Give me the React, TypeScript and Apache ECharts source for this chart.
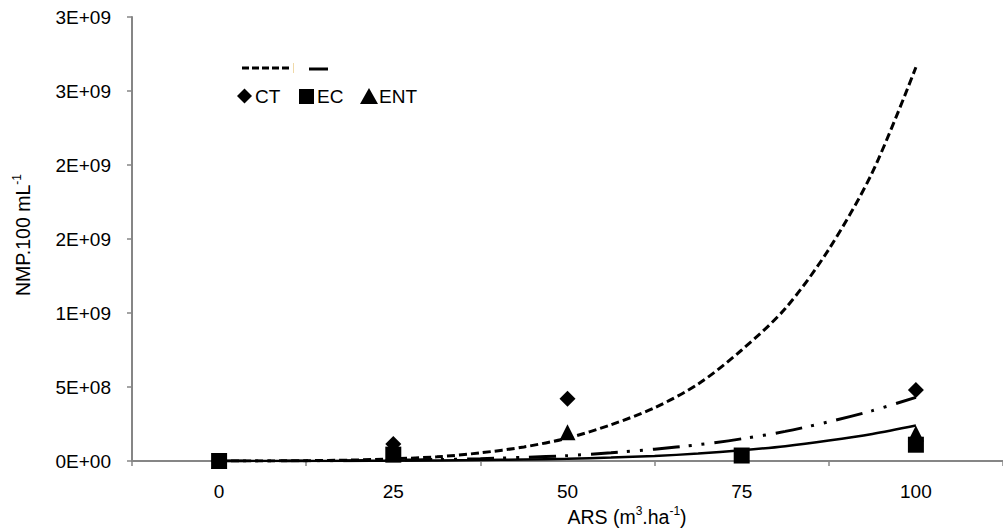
import React, { useEffect, useRef } from "react";
import * as echarts from "echarts";

// Doses of ARS (m³/ha) on the horizontal axis
const xCategories = ["0", "25", "50", "75", "100"];
const xValues = [0, 25, 50, 75, 100];

// Measured NMP per 100 mL for each indicator group
const ctValues: (number | null)[] = [0, 1.15e8, 4.2e8, null, 4.8e8];
const ecValues: (number | null)[] = [0, 4.3e7, null, 3.7e7, 1.1e8];
const entValues: (number | null)[] = [0, 6e7, 1.95e8, null, 1.85e8];

// Trend curves, sampled every 6.25 units along the dose axis
const trendX = [0, 6.25, 12.5, 18.75, 25, 31.25, 37.5, 43.75, 50, 56.25, 62.5, 68.75, 75, 81.25, 87.5, 93.75, 100];
const trendDashed = [0, 5e5, 2e6, 6e6, 1.5e7, 2.8e7, 5.5e7, 9.5e7, 1.55e8, 2.45e8, 3.6e8, 5.2e8, 7.5e8, 1.03e9, 1.43e9, 1.95e9, 2.66e9];
const trendDashDot = [0, 3e5, 1e6, 2.5e6, 5e6, 1e7, 1.6e7, 2.5e7, 3.6e7, 5.6e7, 8e7, 1.1e8, 1.5e8, 2.0e8, 2.65e8, 3.4e8, 4.3e8];
const trendSolid = [0, 1e5, 5e5, 1e6, 2e6, 3.5e6, 6e6, 1e7, 1.5e7, 2.3e7, 3.4e7, 5e7, 7.2e7, 1.0e8, 1.38e8, 1.83e8, 2.4e8];

// Y tick labels as printed in 0E+00 format
const yTickLabels = ["0E+00", "5E+08", "1E+09", "2E+09", "2E+09", "3E+09", "3E+09"];
const yStep = 5e8;
const yMax = 3e9;

const FONT = "Liberation Sans, Arial, Helvetica, sans-serif";
const AXIS_GRAY = "#868686";
const FS = 19;
const TITLE_FS = 19.5;

function pairs(xs: number[], ys: (number | null)[]) {
  const out: number[][] = [];
  xs.forEach((x, i) => {
    const y = ys[i];
    if (y !== null && y !== undefined) out.push([x, y]);
  });
  return out;
}

export default function App() {
  const ref = useRef<HTMLDivElement>(null);

  useEffect(() => {
    if (!ref.current) return;
    const chart = echarts.init(ref.current, null, { renderer: "svg" });

    const scatter = (name: string, symbol: string, values: (number | null)[]) => ({
      name,
      type: "scatter",
      xAxisIndex: 1,
      symbol,
      symbolSize: 16,
      itemStyle: { color: "#000", opacity: 1 },
      data: pairs(xValues, values),
      z: 3,
    });

    const trend = (name: string, values: number[], lineStyle: any) => ({
      name,
      type: "line",
      xAxisIndex: 1,
      showSymbol: false,
      smooth: 0.3,
      lineStyle: { color: "#000", cap: "butt", ...lineStyle },
      data: pairs(trendX, values),
      z: 4,
    });

    const titleRich = {
      a: { fontSize: TITLE_FS, fontFamily: FONT, fill: "#000", lineHeight: 24 },
      s: { fontSize: 12, fontFamily: FONT, fill: "#000", lineHeight: 13, verticalAlign: "top" },
    };

    chart.setOption({
      animation: false,
      backgroundColor: "#fff",
      textStyle: { fontFamily: FONT },
      grid: { left: 132, top: 17, width: 875, height: 444 },
      xAxis: [
        {
          type: "category",
          data: xCategories,
          boundaryGap: true,
          axisLine: { lineStyle: { color: AXIS_GRAY, width: 2 } },
          axisTick: { show: true, length: 5, lineStyle: { color: AXIS_GRAY, width: 1.5 } },
          axisLabel: { color: "#000", fontSize: FS, fontFamily: FONT, margin: 21 },
          splitLine: { show: false },
        },
        {
          type: "value",
          min: -12.5,
          max: 112.5,
          show: false,
        },
      ],
      yAxis: {
        type: "value",
        min: 0,
        max: yMax,
        interval: yStep,
        axisLine: { show: true, onZero: false, lineStyle: { color: AXIS_GRAY, width: 2 } },
        axisTick: { show: true, length: 5, lineStyle: { color: AXIS_GRAY, width: 1.5 } },
        axisLabel: {
          color: "#000",
          fontSize: FS,
          fontFamily: FONT,
          margin: 21,
          formatter: (v: number) => yTickLabels[Math.round(v / yStep)] ?? "",
        },
        splitLine: { show: false },
      },
      series: [
        scatter("CT", "diamond", ctValues),
        scatter("EC", "rect", ecValues),
        scatter("ENT", "triangle", entValues),
        trend("EC (tendência)", trendDashed, { width: 3, type: [8, 4] }),
        trend("CT (tendência)", trendDashDot, { width: 3, type: [27, 9, 3, 10, 3, 10] }),
        trend("ENT (tendência)", trendSolid, { width: 2.5, type: "solid" }),
      ],
      graphic: [
        // Y axis title, rotated, with superscript exponent
        {
          type: "text",
          x: 23,
          y: 235,
          rotation: Math.PI / 2,
          style: {
            text: "{a|NMP.100 mL}{s|-1}",
            align: "center",
            verticalAlign: "middle",
            rich: titleRich,
          },
        },
        // X axis title
        {
          type: "text",
          x: 627,
          y: 517,
          style: {
            text: "{a|ARS (m}{s|3}{a|.ha}{s|-1}{a|)}",
            align: "center",
            verticalAlign: "middle",
            rich: titleRich,
          },
        },
        // Legend, first row: trend line samples
        {
          type: "line",
          shape: { x1: 242, y1: 68, x2: 290, y2: 68 },
          style: { stroke: "#000", lineWidth: 3, lineDash: [7, 3] },
        },
        {
          type: "line",
          shape: { x1: 293.5, y1: 63, x2: 293.5, y2: 73 },
          style: { stroke: "#f0d9a8", lineWidth: 1 },
        },
        {
          type: "line",
          shape: { x1: 309, y1: 69, x2: 328, y2: 69 },
          style: { stroke: "#000", lineWidth: 3 },
        },
        // Legend, second row: markers and series names
        {
          type: "polygon",
          shape: { points: [[244.5, 88.5], [252, 96], [244.5, 103.5], [237, 96]] },
          style: { fill: "#000" },
        },
        {
          type: "text",
          x: 255,
          y: 96,
          style: { text: "CT", fontSize: FS, fontFamily: FONT, fill: "#000", verticalAlign: "middle" },
        },
        {
          type: "rect",
          shape: { x: 299, y: 89, width: 15, height: 15 },
          style: { fill: "#000" },
        },
        {
          type: "text",
          x: 317,
          y: 96,
          style: { text: "EC", fontSize: FS, fontFamily: FONT, fill: "#000", verticalAlign: "middle" },
        },
        {
          type: "polygon",
          shape: { points: [[369, 88], [378, 104], [360, 104]] },
          style: { fill: "#000" },
        },
        {
          type: "text",
          x: 379,
          y: 96,
          style: { text: "ENT", fontSize: FS, fontFamily: FONT, fill: "#000", verticalAlign: "middle" },
        },
      ],
    });

    return () => chart.dispose();
  }, []);

  return (
    <div
      ref={ref}
      style={{ position: "absolute", left: 0, top: 0, width: 1003, height: 529, overflow: "hidden" }}
    />
  );
}
